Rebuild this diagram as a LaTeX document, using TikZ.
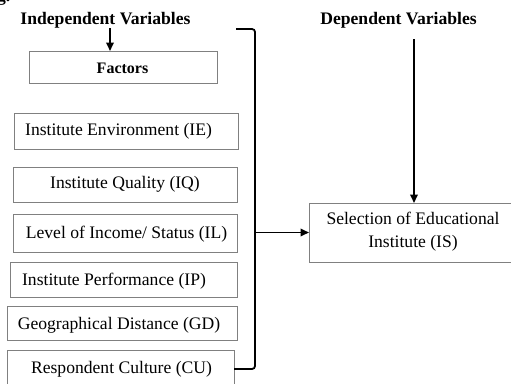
\documentclass[tikz,border=0pt]{standalone}
\usepackage{fontspec}
\setmainfont{Liberation Serif}
\usetikzlibrary{arrows.meta}
\begin{document}
\begin{tikzpicture}[x=1pt,y=-1pt,
  box/.style={draw=black!50, line width=0.9pt, rectangle, inner sep=0pt, outer sep=0pt},
  lbl/.style={inner sep=0pt, font=\fontsize{17.6}{20}\selectfont, text height=12pt, text depth=4pt},
  head/.style={lbl, font=\fontsize{17.6}{20}\selectfont\bfseries},
  link/.style={line width=1.8pt, black},
  arr/.style={link, -{Triangle[length=8.5pt,width=7.5pt]}},
]
\useasboundingbox (0,0) rectangle (511,383);
\clip (0,0) rectangle (511,383);

% caption remnant at the top edge
\node[head, anchor=base west, text height=, text depth=] (fig) at (-3,1.5) {g.};

% headings
\node[head] (indep) at (105.5,20) {Independent Variables};
\node[head] (dep) at (398.5,20) {Dependent Variables};

% factor boxes
\node[box, minimum width=188pt, minimum height=32pt] (factors) at (123,67) {};
\node[head, font=\fontsize{16}{18}\selectfont\bfseries] (factorsT) at (122.5,69) {Factors};

\node[box, minimum width=224pt, minimum height=36pt] (ie) at (126,131) {};
\node[lbl] (ieT) at (118.5,131.5) {Institute Environment (IE)};

\node[box, minimum width=224pt, minimum height=35pt] (iq) at (125,184.5) {};
\node[lbl] (iqT) at (125,184) {Institute Quality (IQ)};

\node[box, minimum width=224pt, minimum height=38pt] (il) at (125,233) {};
\node[lbl] (ilT) at (126.5,234) {Level of Income/ Status (IL)};

\node[box, minimum width=227pt, minimum height=35pt] (ip) at (123.5,279.5) {};
\node[lbl] (ipT) at (114,281) {Institute Performance (IP)};

\node[box, minimum width=230pt, minimum height=34pt] (gd) at (122,323) {};
\node[lbl] (gdT) at (119,325) {Geographical Distance (GD)};

\node[box, minimum width=227pt, minimum height=36pt] (cu) at (120.5,368) {};
\node[lbl] (cuT) at (121.5,369) {Respondent Culture (CU)};

% outcome box
\node[box, minimum width=206pt, minimum height=59pt] (is) at (412,232.5) {};
\node[inner sep=0pt, align=center, font=\fontsize{17.6}{23}\selectfont] (isT) at (413,232) {Selection of Educational\\Institute (IS)};

% bracket gathering the factors
\coordinate (btop) at (236,29);
\coordinate (bx) at (255,0);
\coordinate (bmid) at (255,232.5);
\draw[link, rounded corners=3pt] (btop) -- (btop -| bx) |- (cu.east |- 0,369);

% arrows
\coordinate (ax) at (110,0);
\draw[arr] (indep.south -| ax) -- (factors.north -| ax);
\draw[arr] (bmid) -- (is.west);
\coordinate (dx) at (414,0);
\draw[arr] (dx |- 0,39) -- (is.north -| dx);
\end{tikzpicture}
\end{document}
